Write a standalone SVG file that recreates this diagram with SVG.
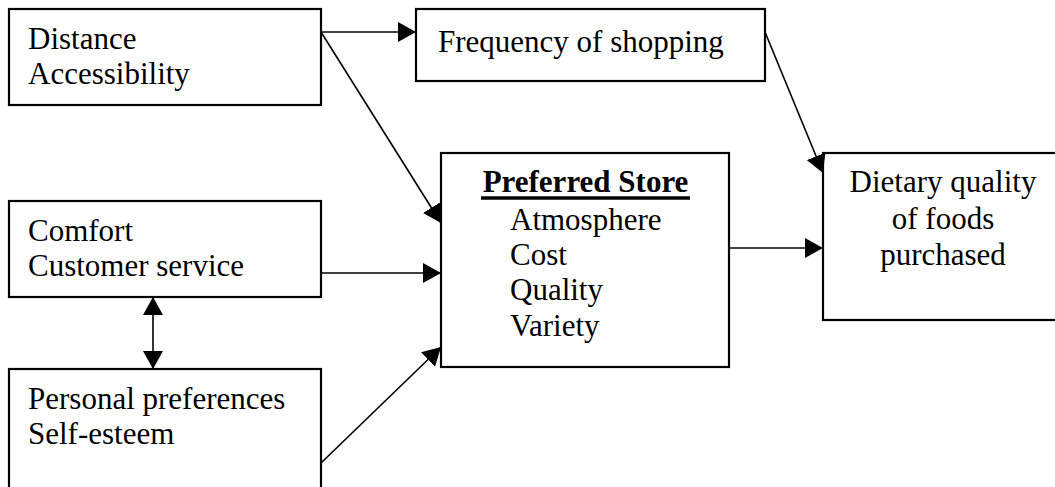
<svg xmlns="http://www.w3.org/2000/svg" width="1055" height="487" viewBox="0 0 1055 487">
  <style>
    .box { fill: #fff; stroke: #000; stroke-width: 2.2; }
    .t { font-family: "Liberation Serif", "Times New Roman", serif; font-size: 31px; fill: #000; }
    .c { text-anchor: middle; }
    .hd { font-weight: bold; }
    .ul { stroke: #000; stroke-width: 3.5; }
    .ln { stroke: #000; stroke-width: 1.6; fill: none; }
  </style>
  <defs>
    <marker id="ah" viewBox="0 0 18 20" refX="18" refY="10" markerWidth="18" markerHeight="20" markerUnits="userSpaceOnUse" orient="auto-start-reverse">
      <path d="M0,0 L18,10 L0,20 Z" fill="#000"/>
    </marker>
  </defs>
  <rect width="1055" height="487" fill="#fff"/>

  <g id="distance">
    <rect class="box" x="9" y="9" width="312" height="96"/>
    <text class="t" x="28" y="49">Distance</text>
    <text class="t" x="28" y="84">Accessibility</text>
  </g>

  <g id="frequency">
    <rect class="box" x="416" y="9" width="349" height="72"/>
    <text class="t" x="438" y="52">Frequency of shopping</text>
  </g>

  <g id="preferred-store">
    <rect class="box" x="441" y="153" width="288" height="214"/>
    <text class="t c hd" x="585.5" y="192">Preferred Store</text>
    <line class="ul" x1="481" y1="198" x2="690" y2="198"/>
    <text class="t" x="510" y="230">Atmosphere</text>
    <text class="t" x="510" y="265">Cost</text>
    <text class="t" x="510" y="300">Quality</text>
    <text class="t" x="510" y="336">Variety</text>
  </g>

  <g id="dietary">
    <rect class="box" x="823" y="153" width="245" height="167"/>
    <text class="t c" x="943" y="192">Dietary quality</text>
    <text class="t c" x="943" y="229">of foods</text>
    <text class="t c" x="943" y="265">purchased</text>
  </g>

  <g id="comfort">
    <rect class="box" x="9" y="201" width="312" height="96"/>
    <text class="t" x="28" y="241">Comfort</text>
    <text class="t" x="28" y="276">Customer service</text>
  </g>

  <g id="personal">
    <rect class="box" x="9" y="369" width="312" height="130"/>
    <text class="t" x="28" y="409">Personal preferences</text>
    <text class="t" x="28" y="444">Self-esteem</text>
  </g>

  <g id="connectors">
    <line class="ln" x1="321" y1="32" x2="416" y2="32" marker-end="url(#ah)"/>
    <line class="ln" x1="321" y1="32" x2="441" y2="223" marker-end="url(#ah)"/>
    <line class="ln" x1="765" y1="32" x2="823" y2="173" marker-end="url(#ah)"/>
    <line class="ln" x1="321" y1="273" x2="441" y2="273" marker-end="url(#ah)"/>
    <line class="ln" x1="729" y1="248" x2="823" y2="248" marker-end="url(#ah)"/>
    <line class="ln" x1="321" y1="463" x2="441" y2="347" marker-end="url(#ah)"/>
    <line class="ln" x1="153" y1="297" x2="153" y2="369" marker-start="url(#ah)" marker-end="url(#ah)"/>
  </g>
</svg>
